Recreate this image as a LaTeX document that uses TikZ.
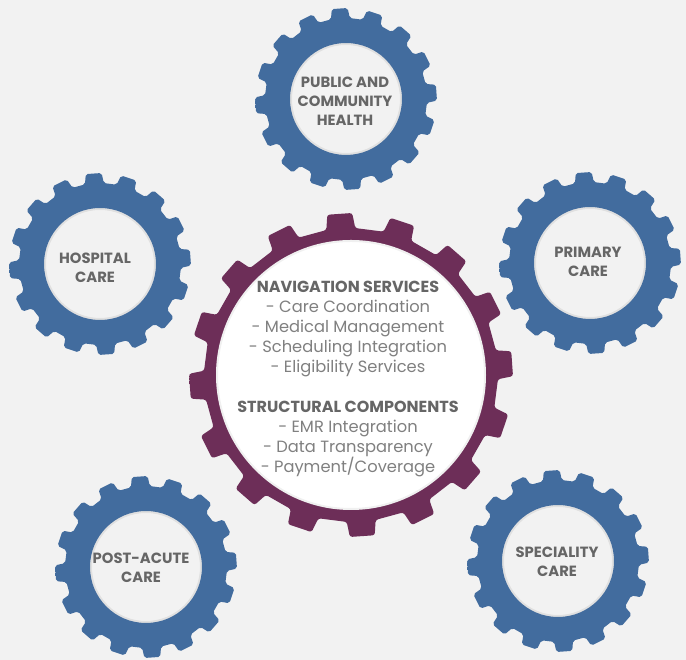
\documentclass[tikz,border=0pt]{standalone}
\usepackage{fontspec}
\setmainfont{Poppins}
\definecolor{bg}{HTML}{F2F2F2}
\definecolor{blA}{HTML}{426C9E}
\definecolor{blB}{HTML}{386395}
\definecolor{blC}{HTML}{2D5A8C}
\definecolor{puA}{HTML}{6D2E58}
\definecolor{puB}{HTML}{64294F}
\definecolor{puC}{HTML}{582346}
\definecolor{txtdark}{HTML}{666666}
\definecolor{txtlight}{HTML}{808080}
\pgfdeclareradialshading{bluering}{\pgfpoint{0bp}{0bp}}{color(0bp)=(blA); color(31bp)=(blA); color(40bp)=(blB); color(50bp)=(blC)}
\pgfdeclareradialshading{purplering}{\pgfpoint{0bp}{0bp}}{color(0bp)=(puA); color(41bp)=(puA); color(45bp)=(puB); color(50bp)=(puC)}
\newcommand\cogblue[2]{%
  \begin{scope}[shift={(#1)}]
    \shade[shading=bluering, even odd rule, rounded corners=2pt]
      ({#2-11.25}:80.74pt)
      \foreach \k in {0,...,15}{
        -- ({#2+\k*22.5-6.7}:81pt) -- ({#2+\k*22.5-5}:91pt)
        -- ({#2+\k*22.5+5}:91pt) -- ({#2+\k*22.5+6.7}:81pt)
      } -- cycle
      (0,0) circle[radius=56pt];
    \draw[black, opacity=.07, line width=2pt] (0,0) circle[radius=55pt];
  \end{scope}}
\newcommand\cogpurple[2]{%
  \begin{scope}[shift={(#1)}]
    \shade[shading=purplering, rounded corners=2.5pt]
      ({#2-11.25}:146.3pt)
      \foreach \k in {0,...,15}{
        -- ({#2+\k*22.5-5.65}:147pt) -- ({#2+\k*22.5-4.42}:162pt)
        -- ({#2+\k*22.5+4.42}:162pt) -- ({#2+\k*22.5+5.65}:147pt)
      } -- cycle;
    \fill[white] (0,0) circle[radius=135pt];
    \draw[black, opacity=.06, line width=2pt] (0,0) circle[radius=134pt];
  \end{scope}}
\tikzset{
  bluelbl/.style={font=\bfseries\fontsize{14.8}{19}\selectfont, text=txtdark, align=center, inner sep=0pt},
  centerlbl/.style={font=\fontsize{16.3}{20}\selectfont, text=txtlight, align=center, inner sep=0pt},
  centerhead/.style={font=\bfseries\fontsize{16}{20}\selectfont},
}
\begin{document}
\begin{tikzpicture}[x=1pt,y=1pt]
  \useasboundingbox (0,0) rectangle (686,660);
  \fill[bg] (0,0) rectangle (686,660);
  \coordinate (gTop) at (346,561);
  \coordinate (gHosp) at (100,396);
  \coordinate (gPrim) at (590,397);
  \coordinate (gPost) at (146,93);
  \coordinate (gSpec) at (558,99);
  \coordinate (gMain) at (351,285);
  \cogblue{gTop}{94}
  \cogblue{gHosp}{94}
  \cogblue{gPrim}{94}
  \cogblue{gPost}{94}
  \cogblue{gSpec}{94}
  \cogpurple{gMain}{94}
  \node[bluelbl] (tTop) at (345,559) {PUBLIC AND\\COMMUNITY\\HEALTH};
  \node[bluelbl] (tHosp) at (95,392.5) {HOSPITAL\\CARE};
  \node[bluelbl] (tPrim) at (588,398) {PRIMARY\\CARE};
  \node[bluelbl] (tPost) at (141,92.5) {POST-ACUTE\\CARE};
  \node[bluelbl] (tSpec) at (557,98) {SPECIALITY\\CARE};
  \node[centerlbl] (tMain) at (348,281) {{\bfseries\fontsize{16}{20}\selectfont\color{txtdark}NAVIGATION SERVICES}\\
    - Care Coordination\\
    - Medical Management\\
    - Scheduling Integration\\
    - Eligibility Services\\[20pt]
    {\bfseries\fontsize{16}{20}\selectfont\color{txtdark}STRUCTURAL COMPONENTS}\\
    - EMR Integration\\
    - Data Transparency\\
    - Payment/Coverage};
\end{tikzpicture}
\end{document}
